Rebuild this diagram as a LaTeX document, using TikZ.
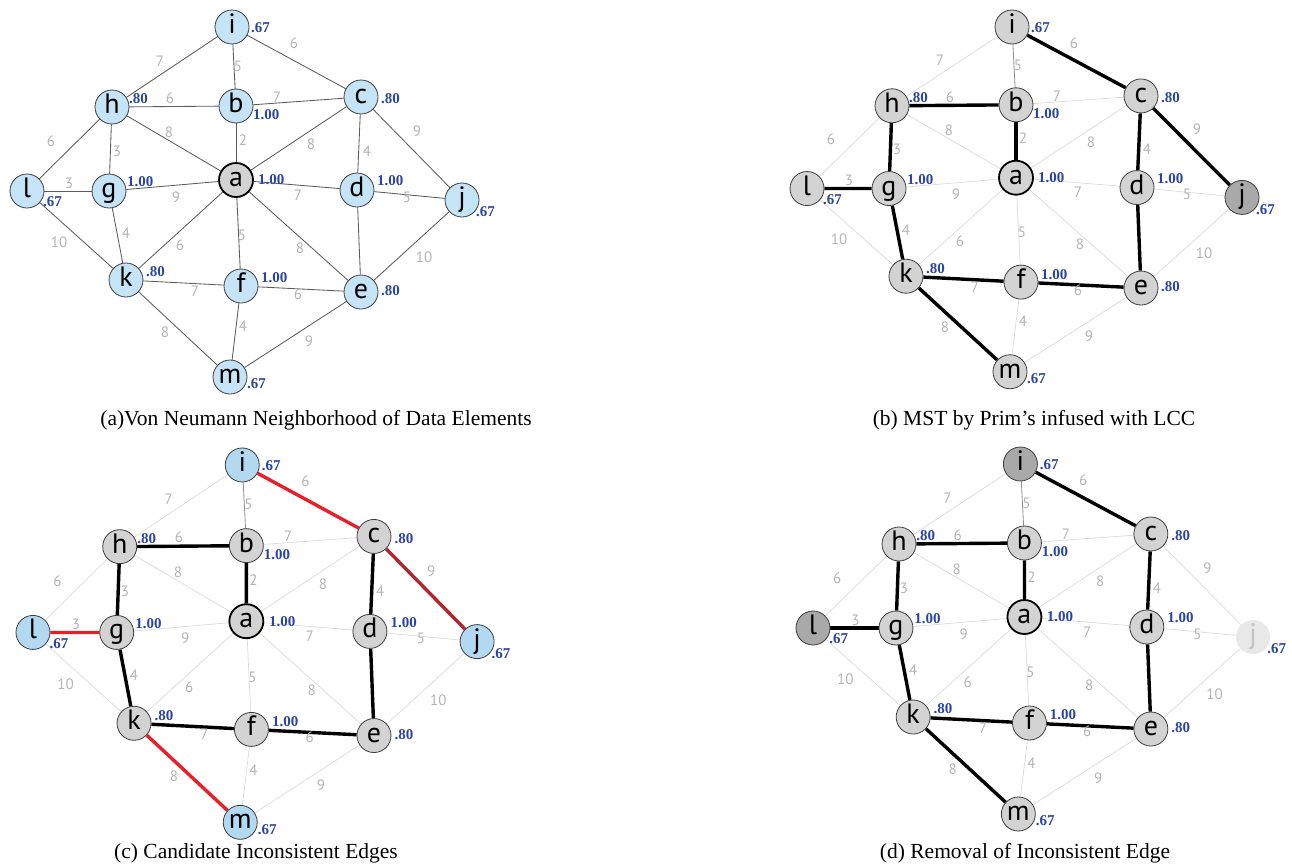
\documentclass[tikz,border=0pt]{standalone}
\usepackage{fontspec}
\setmainfont{Liberation Serif}
\newfontfamily\nodefont{PT Sans}
\pgfdeclarelayer{bg}
\pgfsetlayers{bg,main}

\definecolor{nodeblue}{HTML}{C6E4F7}
\definecolor{candblue}{HTML}{B3D9F2}
\definecolor{nodegray}{HTML}{D3D3D3}
\definecolor{nodedark}{HTML}{A9A9A9}
\definecolor{nodeline}{HTML}{3C3C3C}
\definecolor{fadefill}{HTML}{E8E8E8}
\definecolor{fadetext}{HTML}{C2C2C2}
\definecolor{valblue}{HTML}{2B45A0}
\definecolor{wtgray}{HTML}{B4B4B4}
\definecolor{edgedark}{HTML}{5C5C5C}
\definecolor{edgelight}{HTML}{DADADA}
\definecolor{edgemid}{HTML}{8E8E8E}
\definecolor{cutred}{HTML}{E8202A}
\definecolor{cutdark}{HTML}{B52530}

\tikzset{
  vert/.style={circle, draw=nodeline, line width=0.8pt, fill=nodegray,
    minimum size=34pt, inner sep=0pt, text height=13pt, text depth=0pt,
    font=\nodefont\fontsize{28}{28}\selectfont},
  hub/.style={draw=black, line width=1.8pt},
  val/.style={anchor=west, inner sep=0pt, text=valblue,
    font=\bfseries\fontsize{15}{15}\selectfont},
  wt/.style={inner sep=0pt, text=wtgray, font=\nodefont\fontsize{15}{15}\selectfont},
  link/.style={draw=edgelight, line width=0.7pt},
  tree/.style={draw=black, line width=3.4pt},
  cand/.style={draw=cutred, line width=3.4pt},
  cand dark/.style={draw=cutdark, line width=3.4pt},
  captext/.style={inner sep=0pt, font=\fontsize{21.5}{21.5}\selectfont},
  % per-vertex and per-edge hooks, overridden in each panel
  v-a/.style={}, v-b/.style={}, v-c/.style={}, v-d/.style={}, v-e/.style={},
  v-f/.style={}, v-g/.style={}, v-h/.style={}, v-i/.style={}, v-j/.style={},
  v-k/.style={}, v-l/.style={}, v-m/.style={},
  e-ih/.style={}, e-ib/.style={}, e-ic/.style={}, e-hb/.style={}, e-ha/.style={},
  e-hg/.style={}, e-hl/.style={}, e-bc/.style={}, e-ba/.style={}, e-ca/.style={},
  e-cd/.style={}, e-cj/.style={}, e-lg/.style={}, e-lk/.style={}, e-ga/.style={},
  e-gk/.style={}, e-ad/.style={}, e-ak/.style={}, e-af/.style={}, e-ae/.style={},
  e-dj/.style={}, e-de/.style={}, e-je/.style={}, e-kf/.style={}, e-km/.style={},
  e-fe/.style={}, e-fm/.style={}, e-em/.style={},
  % minimum spanning tree edges
  mst/.style={e-ba/.style={tree}, e-hb/.style={tree}, e-hg/.style={tree},
    e-lg/.style={tree}, e-gk/.style={tree}, e-kf/.style={tree},
    e-fe/.style={tree}, e-de/.style={tree}, e-cd/.style={tree},
    e-ic/.style={tree}, e-cj/.style={tree}, e-km/.style={tree},
    e-ib/.style={draw=edgemid, line width=0.8pt}},
}

\newcommand\graphbody{%
  % vertices
  \node[vert, v-i] (i) at (232,27)  {i};
  \node[vert, v-h] (h) at (112,107) {h};
  \node[vert, v-b] (b) at (236,106) {b};
  \node[vert, v-c] (c) at (361,97)  {c};
  \node[vert, v-l] (l) at (27,191)  {l};
  \node[vert, v-g] (g) at (109,191) {g};
  \node[vert, v-a] (a) at (236,180) {a};
  \node[vert, v-d] (d) at (357,190) {d};
  \node[vert, v-j] (j) at (462,200) {j};
  \node[vert, v-k] (k) at (126,280) {k};
  \node[vert, v-f] (f) at (241,286) {f};
  \node[vert, v-e] (e) at (361,292) {e};
  \node[vert, v-m] (m) at (230,377) {m};
  % local clustering coefficients
  \node[val] (i-cc) at ([shift={(19,1)}]i)  {.67};
  \node[val] (h-cc) at ([shift={(17,-8)}]h) {.80};
  \node[val] (b-cc) at ([shift={(17,9)}]b)  {1.00};
  \node[val] (c-cc) at ([shift={(20,2)}]c)  {.80};
  \node[val] (l-cc) at ([shift={(16,11)}]l) {.67};
  \node[val] (g-cc) at ([shift={(18,-9)}]g) {1.00};
  \node[val] (a-cc) at ([shift={(22,0)}]a)  {1.00};
  \node[val] (d-cc) at ([shift={(20,-9)}]d) {1.00};
  \node[val] (j-cc) at ([shift={(14,12)}]j) {.67};
  \node[val] (k-cc) at ([shift={(20,-8)}]k) {.80};
  \node[val] (f-cc) at ([shift={(20,-8)}]f) {1.00};
  \node[val] (e-cc) at ([shift={(20,-1)}]e) {.80};
  \node[val] (m-cc) at ([shift={(17,7)}]m)  {.67};
  % edges
  \begin{pgfonlayer}{bg}
    \draw[link, e-ih] (i) -- (h);
    \draw[link, e-ib] (i) -- (b);
    \draw[link, e-ic] (i) -- (c);
    \draw[link, e-hb] (h) -- (b);
    \draw[link, e-ha] (h) -- (a);
    \draw[link, e-hg] (h) -- (g);
    \draw[link, e-hl] (h) -- (l);
    \draw[link, e-bc] (b) -- (c);
    \draw[link, e-ba] (b) -- (a);
    \draw[link, e-ca] (c) -- (a);
    \draw[link, e-cd] (c) -- (d);
    \draw[link, e-cj] (c) -- (j);
    \draw[link, e-lg] (l) -- (g);
    \draw[link, e-lk] (l) -- (k);
    \draw[link, e-ga] (g) -- (a);
    \draw[link, e-gk] (g) -- (k);
    \draw[link, e-ad] (a) -- (d);
    \draw[link, e-ak] (a) -- (k);
    \draw[link, e-af] (a) -- (f);
    \draw[link, e-ae] (a) -- (e);
    \draw[link, e-dj] (d) -- (j);
    \draw[link, e-de] (d) -- (e);
    \draw[link, e-je] (j) -- (e);
    \draw[link, e-kf] (k) -- (f);
    \draw[link, e-km] (k) -- (m);
    \draw[link, e-fe] (f) -- (e);
    \draw[link, e-fm] (f) -- (m);
    \draw[link, e-em] (e) -- (m);
  \end{pgfonlayer}
  % edge weights
  \node[wt] (w-ih) at (160,61)  {7};
  \node[wt] (w-ib) at (238,66)  {5};
  \node[wt] (w-ic) at (294,43)  {6};
  \node[wt] (w-hb) at (170,98)  {6};
  \node[wt] (w-ha) at (169,132) {8};
  \node[wt] (w-hg) at (117,151) {3};
  \node[wt] (w-hl) at (51,141)  {6};
  \node[wt] (w-bc) at (277,97)  {7};
  \node[wt] (w-ba) at (243,140) {2};
  \node[wt] (w-ca) at (311,144) {8};
  \node[wt] (w-cd) at (367,151) {4};
  \node[wt] (w-cj) at (417,131) {9};
  \node[wt] (w-lg) at (69,183)  {3};
  \node[wt] (w-lk) at (59,242)  {10};
  \node[wt] (w-ga) at (176,197) {9};
  \node[wt] (w-gk) at (126,233) {4};
  \node[wt] (w-ad) at (298,195) {7};
  \node[wt] (w-ak) at (180,245) {6};
  \node[wt] (w-af) at (242,235) {5};
  \node[wt] (w-ae) at (300,248) {8};
  \node[wt] (w-dj) at (407,197) {5};
  \node[wt] (w-je) at (424,257) {10};
  \node[wt] (w-kf) at (195,291) {7};
  \node[wt] (w-km) at (165,332) {8};
  \node[wt] (w-fe) at (298,294) {6};
  \node[wt] (w-fm) at (243,326) {4};
  \node[wt] (w-em) at (309,341) {9};
}

\begin{document}
\begin{tikzpicture}[x=1pt, y=-1pt]
  \useasboundingbox (0,0) rectangle (1292,865);

  % (a) full neighbourhood graph
  \begin{scope}[name prefix=A-, vert/.append style={fill=nodeblue},
      v-a/.style={hub, fill=nodegray},
      link/.style={draw=edgedark, line width=0.85pt}]
    \graphbody
  \end{scope}

  % (b) minimum spanning tree
  \begin{scope}[name prefix=B-, shift={(780,0.4)}, yscale=0.985, mst,
      v-a/.style={hub}, v-j/.style={fill=nodedark}]
    \graphbody
  \end{scope}

  % (c) candidate inconsistent edges
  \begin{scope}[name prefix=C-, shift={(5.4,437.4)}, scale=1.021, mst,
      v-a/.style={hub},
      v-l/.style={fill=candblue}, v-i/.style={fill=candblue},
      v-j/.style={fill=candblue}, v-m/.style={fill=candblue},
      e-lg/.style={cand}, e-ic/.style={cand}, e-km/.style={cand},
      e-cj/.style={cand dark}]
    \graphbody
  \end{scope}

  % (d) tree after removing the inconsistent edge
  \begin{scope}[name prefix=D-, shift={(785.7,437)}, xscale=1.0115, mst,
      e-cj/.style={},
      v-a/.style={hub},
      v-l/.style={fill=nodedark}, v-i/.style={fill=nodedark},
      v-j/.style={fill=fadefill, draw=none, text=fadetext}]
    \graphbody
  \end{scope}

  % captions
  \node[captext] (cap-a) at (316,420)  {(a)Von Neumann Neighborhood of Data Elements};
  \node[captext] (cap-b) at (1034,420) {(b) MST by Prim’s infused with LCC};
  \node[captext] (cap-c) at (256,853)  {(c) Candidate Inconsistent Edges};
  \node[captext] (cap-d) at (1025,853) {(d) Removal of Inconsistent Edge};
\end{tikzpicture}
\end{document}
